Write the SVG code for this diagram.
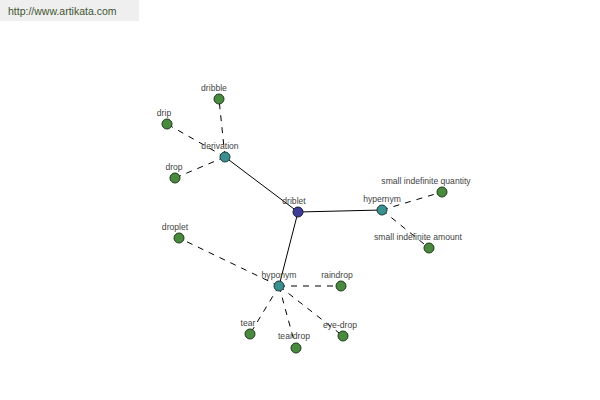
<svg xmlns="http://www.w3.org/2000/svg" width="600" height="400" viewBox="0 0 600 400">
<style>
.lbl{font-family:"Liberation Sans",Arial,sans-serif;font-size:8.6px;fill:#444;text-anchor:middle}
.solid{stroke:#000;stroke-width:1;fill:none}
.dash{stroke:#000;stroke-width:1;fill:none;stroke-dasharray:6,6}
.leaf{fill:#4a8a3e;stroke:#1e3a1a;stroke-width:1}
.mid{fill:#3a8f8f;stroke:#1a3a3a;stroke-width:1}
.root{fill:#3d3d95;stroke:#15153a;stroke-width:1}
</style>
<rect x="0" y="0" width="139" height="21" fill="#efefef"/>
<text x="8" y="15" font-family="Liberation Sans, Arial, sans-serif" font-size="10.5" fill="#3f5530">http://www.artikata.com</text>
<g id="connectors">
<line class="solid" x1="298" y1="212" x2="225" y2="157"/>
<line class="solid" x1="298" y1="212" x2="382" y2="210"/>
<line class="solid" x1="298" y1="212" x2="279" y2="286"/>
<line class="dash" x1="225" y1="157" x2="219" y2="99"/>
<line class="dash" x1="225" y1="157" x2="167" y2="124"/>
<line class="dash" x1="225" y1="157" x2="175" y2="178"/>
<line class="dash" x1="382" y1="210" x2="442" y2="192"/>
<line class="dash" x1="382" y1="210" x2="429" y2="248"/>
<line class="dash" x1="279" y1="286" x2="179" y2="238"/>
<line class="dash" x1="279" y1="286" x2="341" y2="286"/>
<line class="dash" x1="279" y1="286" x2="250" y2="334"/>
<line class="dash" x1="279" y1="286" x2="296" y2="348"/>
<line class="dash" x1="279" y1="286" x2="343" y2="336"/>
</g>
<g id="driblet"><circle class="root" cx="298" cy="212" r="5"/><text class="lbl" x="294" y="204">driblet</text></g>
<g id="derivation"><circle class="mid" cx="225" cy="157" r="5"/><text class="lbl" x="220" y="149">derivation</text></g>
<g id="hypernym"><circle class="mid" cx="382" cy="210" r="5"/><text class="lbl" x="382" y="202">hypernym</text></g>
<g id="hyponym"><circle class="mid" cx="279" cy="286" r="5"/><text class="lbl" x="279" y="278">hyponym</text></g>
<g id="dribble"><circle class="leaf" cx="219" cy="99" r="5"/><text class="lbl" x="214" y="91">dribble</text></g>
<g id="drip"><circle class="leaf" cx="167" cy="124" r="5"/><text class="lbl" x="164" y="116">drip</text></g>
<g id="drop"><circle class="leaf" cx="175" cy="178" r="5"/><text class="lbl" x="174" y="170">drop</text></g>
<g id="small-indefinite-quantity"><circle class="leaf" cx="442" cy="192" r="5"/><text class="lbl" x="426" y="184">small indefinite quantity</text></g>
<g id="small-indefinite-amount"><circle class="leaf" cx="429" cy="248" r="5"/><text class="lbl" x="418" y="240">small indefinite amount</text></g>
<g id="droplet"><circle class="leaf" cx="179" cy="238" r="5"/><text class="lbl" x="175" y="230">droplet</text></g>
<g id="raindrop"><circle class="leaf" cx="341" cy="286" r="5"/><text class="lbl" x="337" y="278">raindrop</text></g>
<g id="tear"><circle class="leaf" cx="250" cy="334" r="5"/><text class="lbl" x="248" y="326">tear</text></g>
<g id="teardrop"><circle class="leaf" cx="296" cy="348" r="5"/><text class="lbl" x="294" y="339">teardrop</text></g>
<g id="eye-drop"><circle class="leaf" cx="343" cy="336" r="5"/><text class="lbl" x="340" y="328">eye-drop</text></g>
</svg>
